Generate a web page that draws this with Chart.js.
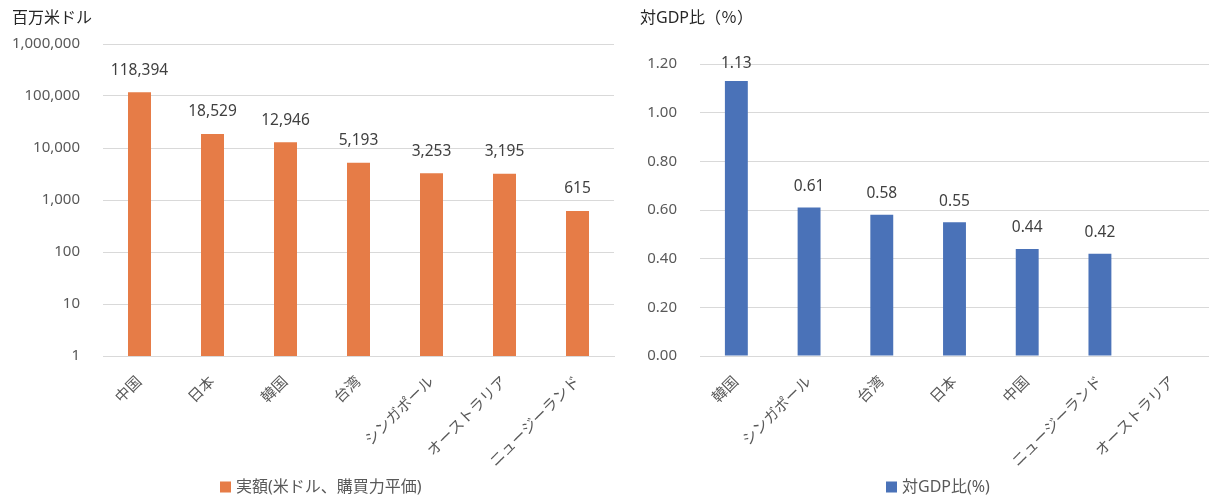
<!DOCTYPE html>
<html>
<head>
<meta charset="utf-8">
<script src="https://cdn.jsdelivr.net/npm/chart.js@4.4.1/dist/chart.umd.min.js"></script>
<style>
  html, body { margin: 0; padding: 0; background: #ffffff; }
  #wrap { position: relative; width: 1209px; height: 495px; overflow: hidden; }
  #c1 { position: absolute; left: 0; top: 0; }
  #c2 { position: absolute; left: 620px; top: 0; }
</style>
</head>
<body>
<div id="wrap">
  <canvas id="c1" width="620" height="495"></canvas>
  <canvas id="c2" width="589" height="495"></canvas>
</div>
<script>
// Amount (USD millions, PPP) by economy
const amountCategories = ['中国', '日本', '韓国', '台湾', 'シンガポール', 'オーストラリア', 'ニュージーランド'];
const amountValues = [118394, 18529, 12946, 5193, 3253, 3195, 615];
const amountTicks = [1, 10, 100, 1000, 10000, 100000, 1000000];
const amountLabel = '実額(米ドル、購買力平価)';

// Share of GDP (%) by economy
const ratioCategories = ['韓国', 'シンガポール', '台湾', '日本', '中国', 'ニュージーランド', 'オーストラリア'];
const ratioValues = [1.13, 0.61, 0.58, 0.55, 0.44, 0.42, null];
const ratioTicks = [0, 0.2, 0.4, 0.6, 0.8, 1.0, 1.2];
const ratioLabel = '対GDP比(%)';

const FONT = "'Noto Sans', 'Noto Sans CJK JP', sans-serif";
const GRID = '#d9d9d9';
const TICK_COLOR = '#595959';

Chart.defaults.font.family = FONT;
Chart.defaults.animation = false;

// Draws the value above each bar
const valueLabels = {
  id: 'valueLabels',
  afterDatasetsDraw(chart, args, opts) {
    const ctx = chart.ctx;
    const ds = chart.data.datasets[0];
    const meta = chart.getDatasetMeta(0);
    ctx.save();
    ctx.font = '15.5px ' + FONT;
    ctx.fillStyle = '#404040';
    ctx.textAlign = 'center';
    ctx.textBaseline = 'middle';
    meta.data.forEach((bar, i) => {
      const v = ds.data[i];
      if (v === null || v === undefined) return;
      const y = Math.max(bar.y - opts.gap, opts.minY);
      ctx.fillText(opts.format(v), bar.x, y);
    });
    ctx.restore();
  }
};

// Draws the unit caption at top-left and the legend entry at the bottom
const panelText = {
  id: 'panelText',
  afterDraw(chart, args, opts) {
    const ctx = chart.ctx;
    const ds = chart.data.datasets[0];
    ctx.save();
    ctx.textBaseline = 'middle';
    ctx.textAlign = 'left';
    ctx.font = '16px ' + FONT;
    ctx.fillStyle = '#262626';
    ctx.fillText(opts.title, opts.titleX, opts.titleY);
    ctx.fillStyle = ds.backgroundColor;
    ctx.fillRect(opts.legendX, opts.legendY - 5.5, 11, 11);
    ctx.font = '16px ' + FONT;
    ctx.fillStyle = TICK_COLOR;
    ctx.fillText(ds.label, opts.legendX + 16, opts.legendY);
    ctx.restore();
  }
};

function baseXAxis() {
  return {
    grid: { display: false, drawTicks: false },
    border: { display: true, color: GRID, width: 1 },
    ticks: {
      color: TICK_COLOR,
      font: { size: 15 },
      minRotation: 45,
      maxRotation: 45,
      autoSkip: false,
      padding: 17
    },
    afterFit(scale) { scale.height = 125; }
  };
}

new Chart(document.getElementById('c1'), {
  type: 'bar',
  data: {
    labels: amountCategories,
    datasets: [{
      label: amountLabel,
      data: amountValues,
      backgroundColor: '#e67c47',
      borderWidth: 0,
      barPercentage: 0.315,
      categoryPercentage: 1
    }]
  },
  options: {
    responsive: false,
    devicePixelRatio: 1,
    layout: { padding: { left: 0, top: 44, right: 6, bottom: 14 } },
    plugins: {
      legend: { display: false },
      tooltip: { enabled: false },
      valueLabels: { gap: 22, minY: 0, format: v => v.toLocaleString('en-US') },
      panelText: { title: '百万米ドル', titleX: 12, titleY: 18, legendX: 220, legendY: 487 }
    },
    scales: {
      x: baseXAxis(),
      y: {
        type: 'logarithmic',
        min: 1,
        max: 1000000,
        grid: { color: GRID, lineWidth: 1, drawTicks: false },
        border: { display: false },
        ticks: {
          color: TICK_COLOR,
          font: { size: 15 },
          padding: 23,
          callback: v => Number(v).toLocaleString('en-US')
        },
        afterBuildTicks(scale) { scale.ticks = amountTicks.map(v => ({ value: v, major: false })); },
        afterFit(scale) { scale.width = 103; }
      }
    }
  },
  plugins: [valueLabels, panelText]
});

new Chart(document.getElementById('c2'), {
  type: 'bar',
  data: {
    labels: ratioCategories,
    datasets: [{
      label: ratioLabel,
      data: ratioValues,
      backgroundColor: '#4a72b8',
      borderWidth: 0,
      barPercentage: 0.315,
      categoryPercentage: 1
    }]
  },
  options: {
    responsive: false,
    devicePixelRatio: 1,
    layout: { padding: { left: 0, top: 64, right: 0, bottom: 14 } },
    plugins: {
      legend: { display: false },
      tooltip: { enabled: false },
      valueLabels: { gap: 21, minY: 64, format: v => v.toFixed(2) },
      panelText: { title: '対GDP比（％）', titleX: 20, titleY: 18, legendX: 266, legendY: 487 }
    },
    scales: {
      x: baseXAxis(),
      y: {
        min: 0,
        max: 1.2,
        grid: { color: GRID, lineWidth: 1, drawTicks: false },
        border: { display: false },
        ticks: {
          color: TICK_COLOR,
          font: { size: 15 },
          padding: 23,
          callback: v => Number(v).toFixed(2)
        },
        afterBuildTicks(scale) { scale.ticks = ratioTicks.map(v => ({ value: v })); },
        afterFit(scale) { scale.width = 80; }
      }
    }
  },
  plugins: [valueLabels, panelText]
});
</script>
</body>
</html>
